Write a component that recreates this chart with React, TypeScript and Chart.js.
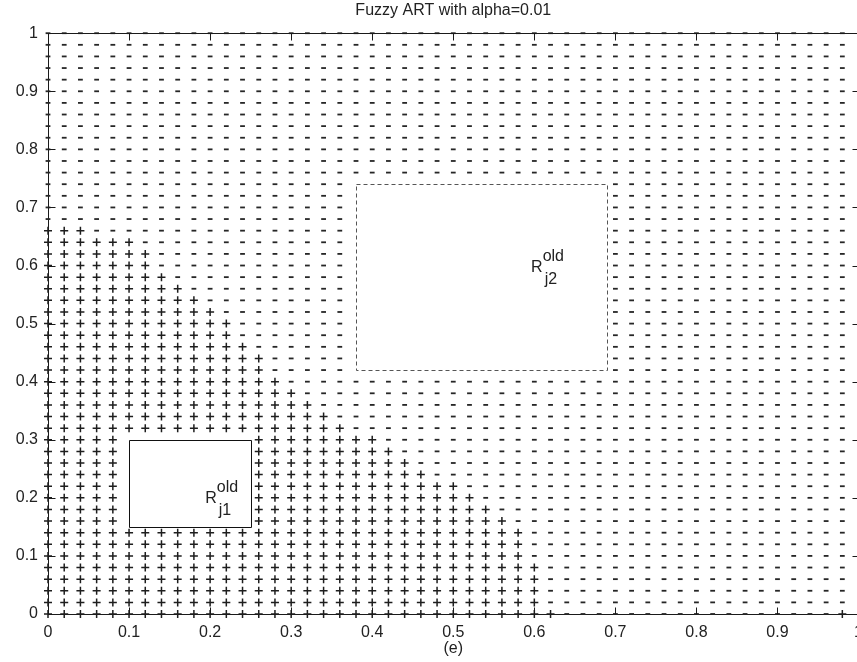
import React, { useEffect, useRef } from 'react';
import { Chart, registerables } from 'chart.js';

Chart.register(...registerables);

// ---------------- data ----------------
const titleText = 'Fuzzy ART with alpha=0.01';
const xAxisLabel = '(e)';

// sample lattice (columns / rows)
const gridX = [
  0, 0.02, 0.04, 0.06, 0.08, 0.1, 0.12, 0.14, 0.16, 0.18,
  0.2, 0.22, 0.24, 0.26, 0.28, 0.3, 0.32, 0.34, 0.36, 0.38,
  0.4, 0.42, 0.44, 0.46, 0.48, 0.5, 0.52, 0.54, 0.56, 0.58,
  0.6, 0.62, 0.64, 0.66, 0.68, 0.7, 0.72, 0.74, 0.76, 0.78,
  0.8, 0.82, 0.84, 0.86, 0.88, 0.9, 0.92, 0.94, 0.96, 0.98,
];
const gridY = [
  0, 0.02, 0.04, 0.06, 0.08, 0.1, 0.12, 0.14, 0.16, 0.18,
  0.2, 0.22, 0.24, 0.26, 0.28, 0.3, 0.32, 0.34, 0.36, 0.38,
  0.4, 0.42, 0.44, 0.46, 0.48, 0.5, 0.52, 0.54, 0.56, 0.58,
  0.6, 0.62, 0.64, 0.66, 0.68, 0.7, 0.72, 0.74, 0.76, 0.78,
  0.8, 0.82, 0.84, 0.86, 0.88, 0.9, 0.92, 0.94, 0.96, 0.98, 1,
];

// rows containing "+" markers and the right-most "+" column of each row
const plusRowY = [
  0, 0.02, 0.04, 0.06, 0.08, 0.1, 0.12, 0.14, 0.16, 0.18,
  0.2, 0.22, 0.24, 0.26, 0.28, 0.3, 0.32, 0.34, 0.36, 0.38,
  0.4, 0.42, 0.44, 0.46, 0.48, 0.5, 0.52, 0.54, 0.56, 0.58,
  0.6, 0.62, 0.64, 0.66,
];
const plusRowMaxX = [
  0.62, 0.6, 0.6, 0.6, 0.6, 0.58, 0.58, 0.58, 0.56, 0.54,
  0.52, 0.5, 0.46, 0.44, 0.42, 0.4, 0.36, 0.34, 0.32, 0.3,
  0.28, 0.26, 0.26, 0.24, 0.22, 0.22, 0.2, 0.18, 0.16, 0.14,
  0.12, 0.12, 0.1, 0.04,
];
// isolated "+" markers
const extraPlusX = [0.98];
const extraPlusY = [0];

// category boxes [x0, y0, x1, y1]
const rectJ1 = [0.1, 0.15, 0.25, 0.3];
const rectJ2 = [0.38, 0.42, 0.69, 0.74];

// box labels
const labelX = [0.194, 0.596];
const labelY = [0.191, 0.589];
const labelSup = ['old', 'old'];
const labelSub = ['j1', 'j2'];

// tick values
const xTicks = [0, 0.1, 0.2, 0.3, 0.4, 0.5, 0.6, 0.7, 0.8, 0.9, 1];
const yTicks = [0, 0.1, 0.2, 0.3, 0.4, 0.5, 0.6, 0.7, 0.8, 0.9, 1];

// ---------------- helpers ----------------
const EPS = 1e-6;
const inRect = (x: number, y: number, r: number[]) =>
  x >= r[0] - EPS && x <= r[2] + EPS && y >= r[1] - EPS && y <= r[3] + EPS;

function buildPoints() {
  const plus: { x: number; y: number }[] = [];
  const dash: { x: number; y: number }[] = [];
  for (const y of gridY) {
    for (const x of gridX) {
      if (inRect(x, y, rectJ1) || inRect(x, y, rectJ2)) continue;
      const ri = plusRowY.findIndex((v) => Math.abs(v - y) < EPS);
      let isPlus = ri >= 0 && x <= plusRowMaxX[ri] + EPS;
      for (let k = 0; k < extraPlusX.length; k++) {
        if (Math.abs(extraPlusX[k] - x) < EPS && Math.abs(extraPlusY[k] - y) < EPS) isPlus = true;
      }
      (isPlus ? plus : dash).push({ x, y });
    }
  }
  return { plus, dash };
}

const FONT = '"Liberation Sans", Arial, Helvetica, sans-serif';
const TEXT_COLOR = '#222';
const AXIS_COLOR = '#1a1a1a';

const decorPlugin = {
  id: 'decor',
  afterDatasetsDraw(chart: any) {
    const ctx = chart.ctx as CanvasRenderingContext2D;
    const xs = chart.scales.x;
    const ys = chart.scales.y;
    const al = (v: number) => Math.round(v) + 0.5;

    ctx.save();
    // boxes
    const drawRect = (r: number[], dashed: boolean, color: string) => {
      const x0 = al(xs.getPixelForValue(r[0]));
      const x1 = al(xs.getPixelForValue(r[2]));
      const y0 = al(ys.getPixelForValue(r[1]));
      const y1 = al(ys.getPixelForValue(r[3]));
      ctx.beginPath();
      ctx.setLineDash(dashed ? [4, 3] : []);
      ctx.strokeStyle = color;
      ctx.lineWidth = 1;
      ctx.rect(x0, y1, x1 - x0, y0 - y1);
      ctx.stroke();
    };
    drawRect(rectJ1, false, '#111');
    drawRect(rectJ2, true, '#555');
    ctx.setLineDash([]);

    // labels R^{old}_{j}
    ctx.fillStyle = TEXT_COLOR;
    ctx.textBaseline = 'alphabetic';
    ctx.textAlign = 'left';
    for (let i = 0; i < labelX.length; i++) {
      const px = xs.getPixelForValue(labelX[i]);
      const py = ys.getPixelForValue(labelY[i]);
      ctx.font = `16px ${FONT}`;
      ctx.fillText('R', px, py);
      const w = ctx.measureText('R').width;
      ctx.fillText(labelSup[i], px + w, py - 11);
      ctx.fillText(labelSub[i], px + w + 2, py + 12);
    }

    // box border (top, right) and inward ticks
    ctx.strokeStyle = AXIS_COLOR;
    ctx.lineWidth = 1;
    ctx.beginPath();
    const top = al(ys.getPixelForValue(1));
    const bottom = al(ys.getPixelForValue(0));
    const left = al(xs.getPixelForValue(0));
    const right = al(xs.getPixelForValue(1));
    ctx.moveTo(left, top);
    ctx.lineTo(right, top);
    ctx.moveTo(right, top);
    ctx.lineTo(right, bottom);
    const tl = 7;
    for (const v of xTicks) {
      const p = al(xs.getPixelForValue(v));
      ctx.moveTo(p, bottom);
      ctx.lineTo(p, bottom - tl);
      ctx.moveTo(p, top);
      ctx.lineTo(p, top + tl);
    }
    for (const v of yTicks) {
      const p = al(ys.getPixelForValue(v));
      ctx.moveTo(left, p);
      ctx.lineTo(left + tl, p);
      ctx.moveTo(right, p);
      ctx.lineTo(right - tl, p);
    }
    ctx.stroke();
    ctx.restore();
  },
};

export default function App() {
  const ref = useRef<HTMLCanvasElement | null>(null);

  useEffect(() => {
    document.body.style.margin = '0';
    const canvas = ref.current;
    if (!canvas) return;
    const { plus, dash } = buildPoints();

    const chart = new Chart(canvas, {
      type: 'scatter',
      data: {
        datasets: [
          {
            label: 'dash',
            data: dash,
            pointStyle: 'line',
            pointRadius: 2.4,
            pointHoverRadius: 2.4,
            borderColor: '#262626',
            backgroundColor: '#262626',
            pointBorderWidth: 1.8,
            borderWidth: 1.8,
            clip: false,
          } as any,
          {
            label: 'plus',
            data: plus,
            pointStyle: 'cross',
            pointRadius: 4,
            pointHoverRadius: 4,
            borderColor: '#1e1e1e',
            backgroundColor: '#1e1e1e',
            pointBorderWidth: 1.5,
            borderWidth: 1.5,
            clip: false,
          } as any,
        ],
      },
      options: {
        animation: false,
        responsive: false,
        devicePixelRatio: 1,
        events: [],
        layout: { padding: { left: 0, top: 0, right: 8, bottom: 0 } },
        plugins: {
          legend: { display: false },
          tooltip: { enabled: false },
          title: {
            display: true,
            text: titleText,
            fullSize: false,
            color: TEXT_COLOR,
            font: { family: FONT, size: 16, weight: 'normal', lineHeight: 1.2 },
            padding: { top: 1, bottom: 13 },
          },
        },
        scales: {
          x: {
            type: 'linear',
            position: 'bottom',
            min: 0,
            max: 1,
            grid: { display: false, drawTicks: false },
            border: { display: true, color: AXIS_COLOR, width: 1 },
            afterBuildTicks: (s: any) => {
              s.ticks = xTicks.map((v) => ({ value: v }));
            },
            afterFit: (s: any) => {
              s.height = 48;
            },
            ticks: {
              autoSkip: false,
              maxRotation: 0,
              padding: 9,
              color: TEXT_COLOR,
              font: { family: FONT, size: 16 },
              callback: (v: any) => String(v),
            },
            title: {
              display: true,
              text: xAxisLabel,
              color: TEXT_COLOR,
              font: { family: FONT, size: 16 },
              padding: { top: 0, bottom: 4 },
            },
          },
          y: {
            type: 'linear',
            position: 'left',
            min: 0,
            max: 1,
            grid: { display: false, drawTicks: false },
            border: { display: true, color: AXIS_COLOR, width: 1 },
            afterBuildTicks: (s: any) => {
              s.ticks = yTicks.map((v) => ({ value: v }));
            },
            afterFit: (s: any) => {
              s.width = 48;
            },
            ticks: {
              autoSkip: false,
              padding: 10,
              color: TEXT_COLOR,
              font: { family: FONT, size: 16 },
              callback: (v: any) => String(v),
            },
          },
        },
      } as any,
      plugins: [decorPlugin],
    });

    return () => {
      chart.destroy();
    };
  }, []);

  return (
    <div
      style={{
        position: 'fixed',
        left: 0,
        top: 0,
        width: 857,
        height: 662,
        overflow: 'hidden',
        background: '#fff',
      }}
    >
      <canvas ref={ref} width={872} height={662} style={{ display: 'block', width: 872, height: 662 }} />
    </div>
  );
}
